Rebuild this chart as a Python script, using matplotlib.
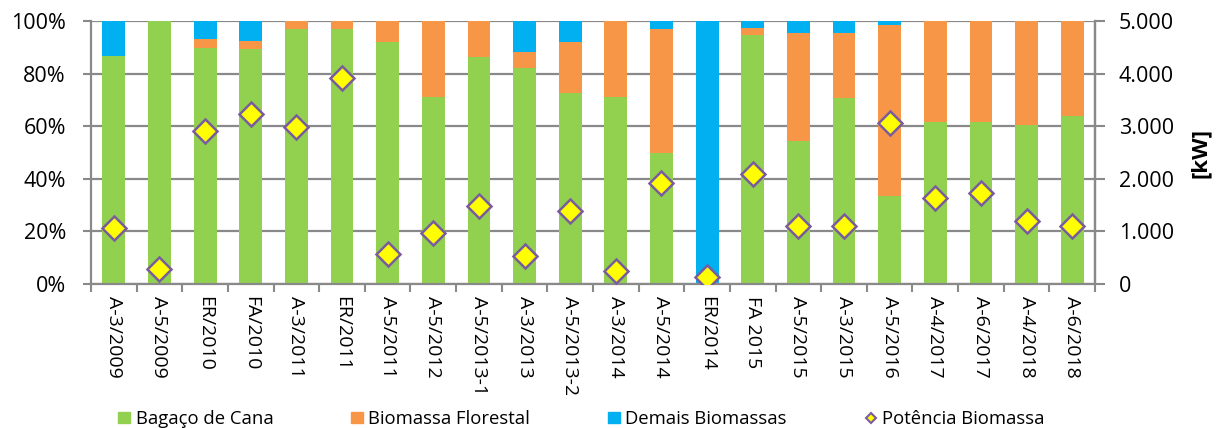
import matplotlib
matplotlib.use("Agg")
import matplotlib.pyplot as plt
import numpy as np
from matplotlib.lines import Line2D
from matplotlib.patches import Patch

categories = ["A-3/2009", "A-5/2009", "ER/2010", "FA/2010", "A-3/2011", "ER/2011",
              "A-5/2011", "A-5/2012", "A-5/2013-1", "A-3/2013", "A-5/2013-2", "A-3/2014",
              "A-5/2014", "ER/2014", "FA 2015", "A-5/2015", "A-3/2015", "A-5/2016",
              "A-4/2017", "A-6/2017", "A-4/2018", "A-6/2018"]
bagaco = [86.7, 100.0, 89.9, 89.2, 96.8, 97.1, 92.1, 71.2, 86.4, 82.0, 72.7, 71.2,
          49.7, 0.0, 94.7, 54.3, 70.6, 33.6, 61.7, 61.7, 60.5, 63.8]
florestal = [0.0, 0.0, 3.3, 3.1, 3.2, 2.9, 7.9, 28.8, 13.6, 6.1, 19.4, 28.8,
             47.1, 0.0, 2.5, 41.0, 25.0, 64.9, 38.3, 38.3, 39.5, 36.2]
demais = [13.3, 0.0, 6.8, 7.7, 0.0, 0.0, 0.0, 0.0, 0.0, 11.9, 7.9, 0.0,
          3.2, 100.0, 2.8, 4.7, 4.4, 1.5, 0.0, 0.0, 0.0, 0.0]
potencia = [1060, 285, 2915, 3225, 2985, 3910, 570, 965, 1490, 530, 1380, 255,
            1915, 140, 2090, 1110, 1105, 3055, 1640, 1735, 1205, 1105]

left_ticks = [0, 20, 40, 60, 80, 100]
left_labels = ["0%", "20%", "40%", "60%", "80%", "100%"]
right_ticks = [0, 1000, 2000, 3000, 4000, 5000]
right_labels = ["0", "1.000", "2.000", "3.000", "4.000", "5.000"]

c_green = "#92D050"
c_orange = "#F79646"
c_blue = "#00B0F0"
c_grid = "#898989"
c_edge = "#7A5C9E"

plt.rcParams['font.family'] = ['Open Sans', 'DejaVu Sans']

fig = plt.figure(figsize=(12.23, 4.28), dpi=100)
ax = fig.add_axes([91/1223, 1 - 284/428, (1095-91)/1223, (284-21)/428])
x = np.arange(len(categories))
bw = 0.5
b = np.array(bagaco); f = np.array(florestal); d = np.array(demais)
ax.bar(x, b, bw, color=c_green, zorder=2)
ax.bar(x, f, bw, bottom=b, color=c_orange, zorder=2)
ax.bar(x, d, bw, bottom=b + f, color=c_blue, zorder=2)

ax.set_xlim(-0.5, len(categories) - 0.5)
ax.set_ylim(0, 100)
ax.set_yticks(left_ticks)
ax.set_yticklabels(left_labels, fontsize=15.5)
ax.yaxis.grid(True, color=c_grid, linewidth=1.6, zorder=0)
ax.set_axisbelow(True)
ax.set_xticks(x)
ax.set_xticklabels(categories, rotation=-90, fontsize=14)
ax.tick_params(axis='x', length=0, pad=9)
ax.set_xticks(np.arange(len(categories) + 1) - 0.5, minor=True)
ax.tick_params(axis='x', which='minor', length=6, width=1.5, color=c_grid)
ax.tick_params(axis='y', length=6, width=1.5, color=c_grid, pad=12)
ax.spines['top'].set_visible(False)
for s in ['left', 'bottom', 'right']:
    ax.spines[s].set_color(c_grid)
    ax.spines[s].set_linewidth(1.6)

ax2 = ax.twinx()
ax2.set_ylim(0, 5000)
ax2.set_yticks(right_ticks)
ax2.set_yticklabels(right_labels, fontsize=15.5)
ax2.tick_params(axis='y', length=7, width=1.5, color=c_grid, pad=10)
ax2.spines['top'].set_visible(False)
ax2.spines['right'].set_color(c_grid)
ax2.spines['right'].set_linewidth(1.6)
ax2.spines['left'].set_visible(False)
ax2.spines['bottom'].set_visible(False)
ax2.plot(x, potencia, linestyle='none', marker='D', markersize=12.5,
         markerfacecolor='#FFFF00', markeredgecolor=c_edge, markeredgewidth=1.8, zorder=5)
ax2.set_ylabel("[kW]", fontsize=16, fontweight='bold', labelpad=12)

handles = [Patch(color=c_green), Patch(color=c_orange), Patch(color=c_blue),
           Line2D([], [], linestyle='none', marker='D', markersize=5.5,
                  markerfacecolor='#FFFF00', markeredgecolor=c_edge, markeredgewidth=1.5)]
labels = ["Bagaço de Cana", "Biomassa Florestal", "Demais Biomassas", "Potência Biomassa"]
fig.legend(handles, labels, loc='center left', bbox_to_anchor=(118/1223, 1 - 419/428), ncol=4,
           frameon=False, fontsize=13.3, handlelength=0.65, handleheight=0.6,
           handletextpad=0.3, columnspacing=4.2, borderaxespad=0, borderpad=0)

fig.savefig("out.png", dpi=100)
